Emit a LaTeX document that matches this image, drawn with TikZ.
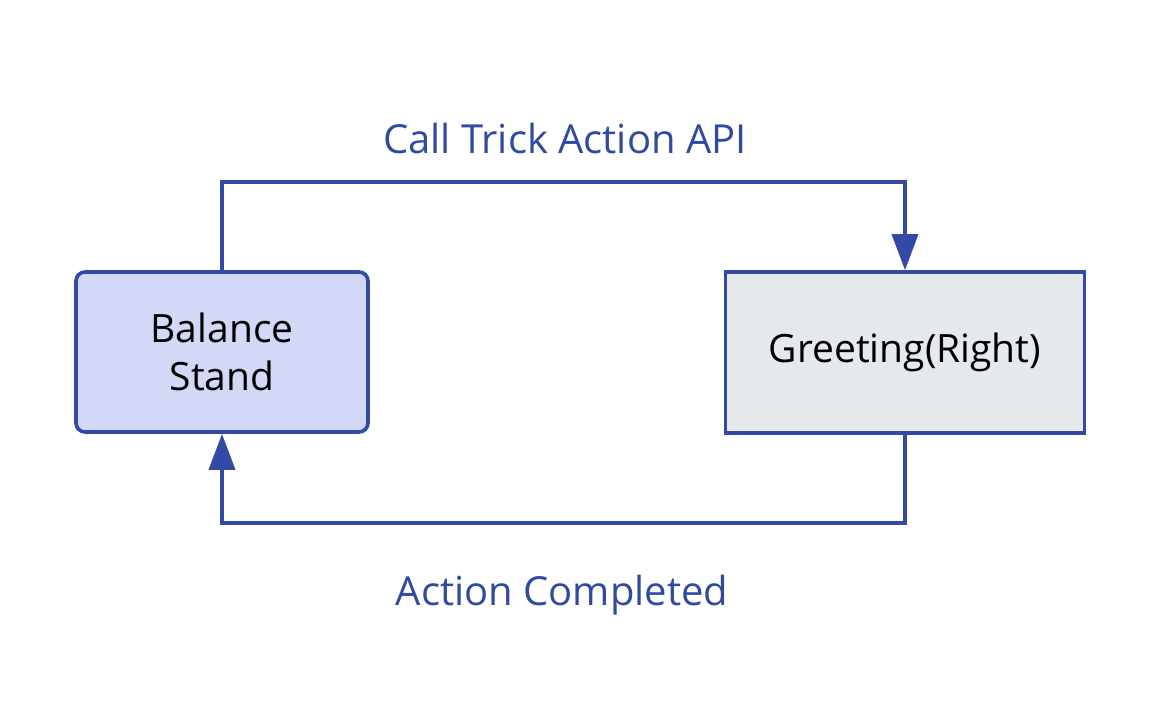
\documentclass[tikz,border=0pt]{standalone}
\usepackage{fontspec}
\setmainfont{Open Sans}
\usetikzlibrary{arrows.meta, positioning, calc}

\definecolor{flowblue}{RGB}{50,74,166}
\definecolor{labelblue}{RGB}{48,74,160}
\definecolor{balancefill}{RGB}{211,216,247}
\definecolor{greetfill}{RGB}{230,233,236}

\begin{document}
\begin{tikzpicture}[x=1pt, y=-1pt,
    state/.style={draw=flowblue, line width=3.6pt, align=center, text=black,
                  font=\fontsize{39}{48}\selectfont, inner sep=0pt},
    flow/.style={draw=flowblue, line width=3.6pt,
                 -{Triangle[width=26pt, length=36pt]}},
    lbl/.style={text=labelblue, font=\fontsize{40}{48}\selectfont}]
    \useasboundingbox (0,0) rectangle (1161,725);

    % States
    \node[state, fill=balancefill, rounded corners=9pt,
          minimum width=292pt, minimum height=160pt] (balance) at (222,352) {Balance\\Stand};
    \node[state, fill=greetfill,
          minimum width=359pt, minimum height=161pt] (greeting) at (905,352.5) {Greeting(Right)};

    % Transitions
    \coordinate (topleft) at (222,182);
    \coordinate (botright) at (905,523);
    \draw[flow] (balance.north) -- (topleft) -| (greeting.north);
    \draw[flow] (greeting.south) -- (botright) -| (balance.south);

    % Labels
    \node[lbl] (calltrick) at (565,138) {Call Trick Action API};
    \node[lbl] (completed) at (562,595) {Action Completed};
\end{tikzpicture}
\end{document}
